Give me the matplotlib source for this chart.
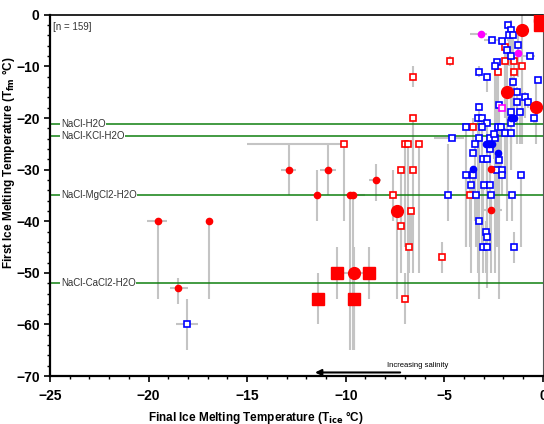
import numpy as np
import matplotlib.pyplot as plt

plt.rcParams['font.family'] = ['Liberation Sans', 'DejaVu Sans']

# red open squares: x, y, bottom and top of the gray range bar
ro_x = [-10.1, -7.0, -6.83, -6.3, -7.2, -6.6, -7.6, -6.7, -7.2, -6.8, -5.1, -7.0, -3.7, -3.53,
        -4.7, -6.6, -6.6, -1.9, -1.9, -1.47, -1.07, -2.3, -1.47]
ro_y = [-25, -25, -25, -25, -30, -30, -35, -38, -41, -45, -47, -55, -35, -21.8,
        -8.9, -12, -20, -6.3, -8.9, -8.9, -9.9, -11, -11]
ro_lo = [-40, -45, -55, -50, -50, -50, -40, -45, -45, -50, -50, -60, -45, -25,
         -10, -14, -30, -20, -15, -12, -15, -25, -20]
ro_hi = [-25, -25, -25, -25, -30, -22, -30, -38, -35, -38, -44, -50, -30, -20,
         -8, -10, -20, -6, -8, -8, -8, -10, -11]

# red filled squares
rs_x = [-11.4, -10.45, -9.6, -8.8, -0.15, -0.15]
rs_y = [-55, -50, -55, -50, -0.3, -2.0]
rs_lo = [-60, -55, -65, -55, -1, -3]
rs_hi = [-50, -45, -50, -45, 0, -1]

# red small dots
rd_x = [-19.5, -18.5, -16.94, -12.9, -10.9, -11.46, -9.8, -9.62, -8.48, -2.65, -2.65]
rd_y = [-40, -53, -40, -30, -30, -35, -35, -35, -32, -37.9, -29.9]
rd_lo = [-55, -56, -55, -35, -35, -40, -65, -65, -36, -38.5, -30]
rd_hi = [-40, -51, -40, -25, -25, -30, -35, -35, -29, -36, -29.5]

# red large dots
rl_x = [-1.05, -0.35, -9.6, -7.4, -1.84]
rl_y = [-2.9, -17.9, -50, -38, -15]
rl_lo = [-25, -25, -65, -55, -30]
rl_hi = [0, -12, -45, -38, -14]

# magenta
md_x = [-3.16, -1.25]
md_y = [-3.8, -7.4]
ms_x = [-2.05]
ms_y = [-18]

# blue open squares
bo_x = [-1.76, -1.64, -1.72, -1.5, -2.6, -2.1, -1.25, -1.84, -1.64, -0.66, -2.35, -2.45,
        -3.26, -2.85, -0.25, -1.54, -1.32, -0.9, -0.76, -1.32, -3.25, -2.23, -1.15, -0.46,
        -1.64, -3.3, -3.1, -2.85, -1.6, -3.9, -2.27, -3.07, -2.13, -4.63, -3.25, -2.7,
        -2.43, -1.9, -1.64, -2.5, -3.43, -2.7, -3.53, -3.06, -2.85, -2.23, -2.35, -2.06,
        -3.9, -3.53, -2.1, -1.1, -3.65, -3.0, -2.67, -4.8, -3.4, -2.64, -1.56, -3.26,
        -2.9, -2.85, -3.06, -2.85, -1.47, -18.04]
bo_y = [-1.9, -2.9, -3.9, -3.9, -4.8, -5, -5.9, -6.9, -7.9, -7.9, -9.2, -10,
        -11, -12, -12.6, -13, -14.9, -16, -16.8, -16.8, -17.9, -17.4, -18.9, -20,
        -18.9, -20, -20, -21, -21, -21.8, -21.8, -21.8, -21.8, -23.9, -23.9, -23.9,
        -23.9, -22.9, -22.9, -23, -25, -26, -26.8, -28, -28, -28.1, -30, -30,
        -31, -31, -31, -31, -33, -33, -33, -35, -35, -35, -35, -39.9,
        -42, -43, -45, -45, -45, -60]
bo_lo = [-5, -20, -10, -8, -5, -5, -12, -40, -30, -8, -45, -50,
         -12, -15, -13, -20, -25, -20, -18, -20, -30, -40, -25, -21,
         -25, -50, -45, -50, -30, -45, -40, -25, -30, -24, -35, -45,
         -30, -30, -25, -28, -40, -35, -27, -45, -40, -55, -45, -35,
         -45, -35, -32, -45, -50, -34, -34, -40, -45, -50, -40, -55,
         -50, -53, -50, -48, -48, -65]
bo_hi = [-1.9, -1, -2, -3, -4.8, -5, -4, -6, -7, -8, -9, -10,
         -10, -12, -12, -12, -14, -15, -16, -16, -17, -17, -18, -20,
         -18, -20, -20, -21, -21, -21.8, -21.8, -21, -21, -24, -23, -23,
         -23, -22, -22, -23, -25, -26, -27, -28, -28, -28, -30, -30,
         -31, -31, -31, -31, -33, -33, -33, -25, -35, -35, -35, -35,
         -40, -40, -40, -42, -42, -55]

# blue small filled dots
bd_x = [-1.6, -1.45, -2.9, -2.75, -2.6, -2.27, -3.53]
bd_y = [-19.9, -20.0, -25, -25, -25, -26.8, -29.9]

# horizontal range bars: y, x_left, x_right
hb_y = [-25, -40, -53, -60, -30, -30, -35, -32, -37.9, -50, -3.8, -4.8, -7.9, -23.9, -30]
hb_x0 = [-15.0, -20.1, -18.9, -18.6, -13.3, -11.3, -10.0, -8.8, -3.1, -10.1, -3.7, -3.0, -1.2, -5.5, -2.6]
hb_x1 = [-10.1, -19.05, -18.0, -17.5, -12.5, -10.5, -9.0, -8.2, -2.1, -9.0, -2.86, -2.3, -0.4, -4.0, -2.0]

# reference eutectic lines
eut_y = [-21.2, -23.5, -35, -52]
eut_names = ['NaCl-H2O', 'NaCl-KCl-H2O', 'NaCl-MgCl2-H2O', 'NaCl-CaCl2-H2O']

fig = plt.figure(figsize=(5.44, 4.24), dpi=100)
ax = fig.add_axes([0.092, 0.113, 0.906, 0.852])

gray = '#c4c4c4'
ax.vlines(ro_x, ro_lo, ro_hi, color=gray, lw=1.5, zorder=1)
ax.vlines(rs_x, rs_lo, rs_hi, color=gray, lw=1.5, zorder=1)
ax.vlines(rd_x, rd_lo, rd_hi, color=gray, lw=1.5, zorder=1)
ax.vlines(rl_x, rl_lo, rl_hi, color=gray, lw=1.5, zorder=1)
ax.vlines(bo_x, bo_lo, bo_hi, color=gray, lw=1.5, zorder=1)
ax.hlines(hb_y, hb_x0, hb_x1, color=gray, lw=1.5, zorder=1)

for yv, name in zip(eut_y, eut_names):
    ax.axhline(yv, color='#108010', lw=1.1, zorder=2)
    ax.text(-24.45, yv, name, fontsize=7, color='#333333', va='center', ha='left',
            bbox=dict(facecolor='white', edgecolor='none', pad=0.5), zorder=4)

ax.plot(ro_x, ro_y, 's', ms=5, mfc='white', mec='red', mew=1.2, zorder=3)
ax.plot(bo_x, bo_y, 's', ms=5, mfc='white', mec='blue', mew=1.2, zorder=3)
ax.plot(ms_x, ms_y, 's', ms=5, mfc='white', mec='magenta', mew=1.2, zorder=3)
ax.plot(bd_x, bd_y, 'o', ms=4.5, color='blue', zorder=3)
ax.plot(rd_x, rd_y, 'o', ms=4.5, color='red', zorder=3)
ax.plot(md_x, md_y, 'o', ms=4.5, color='magenta', zorder=3)
ax.plot(rl_x, rl_y, 'o', ms=8.5, color='red', zorder=3)
ax.plot(rs_x, rs_y, 's', ms=8, color='red', zorder=3)

ax.text(-24.85, -2.3, '[n = 159]', fontsize=7, ha='left', va='center', color='#333333')
ax.annotate('', xy=(-11.7, -69.3), xytext=(-7.1, -69.3),
            arrowprops=dict(arrowstyle='-|>', color='black', lw=1.5, mutation_scale=9))
ax.text(-4.8, -68.0, 'Increasing salinity', fontsize=5.5, ha='right', va='center')

ax.set_xlim(-25, 0)
ax.set_ylim(-70, 0)
ax.set_xticks(np.arange(-25, 1, 5))
ax.set_yticks(np.arange(-70, 1, 10))
ax.set_xticks(np.arange(-25, 1, 1), minor=True)
ax.set_yticks(np.arange(-70, 1, 2), minor=True)
ax.tick_params(which='major', direction='out', length=4, width=1.2, labelsize=10)
ax.tick_params(axis='x', which='major', pad=5)
ax.tick_params(which='minor', direction='out', length=2.5, width=1)
for lab in ax.get_xticklabels() + ax.get_yticklabels():
    lab.set_fontweight('bold')
for side in ['left', 'bottom']:
    ax.spines[side].set_linewidth(1.6)
ax.spines['top'].set_linewidth(1.2)
ax.spines['right'].set_color('#555555')

ax.set_xlabel('Final Ice Melting Temperature (T$_{\\mathbf{ice}}$ °C)', fontsize=8.5,
              fontweight='bold')
ax.set_ylabel('First Ice Melting Temperature (T$_{\\mathbf{fm}}$ °C)', fontsize=8.5,
              fontweight='bold')
ax.xaxis.set_label_coords(0.418, -0.09)
ax.yaxis.set_label_coords(-0.067, 0.59)

fig.savefig('out.png', dpi=100)
